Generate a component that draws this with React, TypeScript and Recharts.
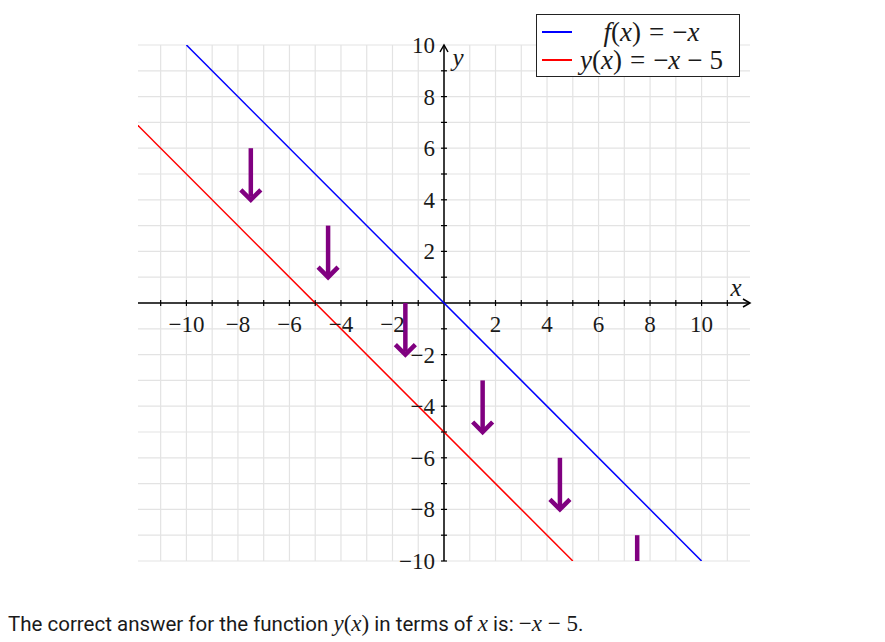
import {
  LineChart,
  Line,
  XAxis,
  YAxis,
  ReferenceLine,
  ReferenceDot,
  Legend,
} from 'recharts'

// plot window
const X_DOMAIN = [-11.88, 11.88]
const Y_DOMAIN = [-10, 10]

// grid / ticks every unit
const gridX = [-11, -10, -9, -8, -7, -6, -5, -4, -3, -2, -1, 0, 1, 2, 3, 4, 5, 6, 7, 8, 9, 10, 11]
const gridY = [-10, -9, -8, -7, -6, -5, -4, -3, -2, -1, 0, 1, 2, 3, 4, 5, 6, 7, 8, 9, 10]
const tickMarksX = [-11, -10, -9, -8, -7, -6, -5, -4, -3, -2, -1, 1, 2, 3, 4, 5, 6, 7, 8, 9, 10, 11]
const tickMarksY = [-10, -9, -8, -7, -6, -5, -4, -3, -2, -1, 1, 2, 3, 4, 5, 6, 7, 8, 9]
const tickLabelsX = [-10, -8, -6, -4, -2, 2, 4, 6, 8, 10]
const tickLabelsY = [-10, -8, -6, -4, -2, 2, 4, 6, 8, 10]

// f(x) = -x
const fX = [-10, 10]
const fY = [10, -10]
// y(x) = -x - 5
const gX = [-12, 5]
const gY = [7, -10]

// purple shift arrows
const arrowX = [-7.5, -4.5, -1.5, 1.5, 4.5, 7.5]
const arrowTop = [6, 3, 0, -3, -6, -9]
const arrowBottom = [4, 1, -2, -5, -8, -11]

const fData = fX.map((x, i) => ({ x, y: fY[i] }))
const gData = gX.map((x, i) => ({ x, y: gY[i] }))

const SERIF = '"Liberation Serif", "Times New Roman", serif'
const PURPLE = '#800080'
const INK = '#1a1a1a'
const GRID = '#e3e3e3'

const fmt = (v: number) => (v < 0 ? '\u2212' + Math.abs(v) : String(v))

function ArrowShape(p: any) {
  const { x1, y1, x2, y2 } = p
  return (
    <g clipPath={p.clipPath}>
      <line x1={x1} y1={y1} x2={x2} y2={y2 - 3} stroke={PURPLE} strokeWidth={4.5} />
      <polyline
        points={`${x2 - 10},${y2 - 10} ${x2},${y2} ${x2 + 10},${y2 - 10}`}
        fill="none"
        stroke={PURPLE}
        strokeWidth={4.5}
      />
    </g>
  )
}

function XTick(p: any) {
  return <line x1={p.cx} y1={p.cy - 3} x2={p.cx} y2={p.cy + 3} stroke="#000" strokeWidth={1.2} />
}

function YTick(p: any) {
  return <line x1={p.cx - 3} y1={p.cy} x2={p.cx + 3} y2={p.cy} stroke="#000" strokeWidth={1.2} />
}

function XLabel(p: any) {
  return (
    <text x={p.cx} y={p.cy + 29} textAnchor="middle" fontFamily={SERIF} fontSize={23} fill={INK}>
      {p.label}
    </text>
  )
}

function YLabel(p: any) {
  return (
    <text x={p.cx - 9} y={p.cy + 8} textAnchor="end" fontFamily={SERIF} fontSize={23} fill={INK}>
      {p.label}
    </text>
  )
}

function XAxisArrow(p: any) {
  return (
    <g>
      <polyline
        points={`${p.cx - 7},${p.cy - 4} ${p.cx},${p.cy} ${p.cx - 7},${p.cy + 4}`}
        fill="none"
        stroke="#000"
        strokeWidth={1.5}
      />
      <text x={p.cx - 14} y={p.cy - 7} textAnchor="middle" fontFamily={SERIF} fontStyle="italic" fontSize={25} fill={INK}>
        x
      </text>
    </g>
  )
}

function YAxisArrow(p: any) {
  return (
    <g>
      <polyline
        points={`${p.cx - 4},${p.cy + 7} ${p.cx},${p.cy} ${p.cx + 4},${p.cy + 7}`}
        fill="none"
        stroke="#000"
        strokeWidth={1.5}
      />
      <text x={p.cx + 14} y={p.cy + 21} textAnchor="middle" fontFamily={SERIF} fontStyle="italic" fontSize={25} fill={INK}>
        y
      </text>
    </g>
  )
}

const gap = (c: string, m = 8) => <span style={{ margin: `0 ${m}px` }}>{c}</span>

const legendText: Record<string, any> = {
  f: (
    <>
      <i>f</i>(<i>x</i>){gap('=')}{'\u2212'}<i>x</i>
    </>
  ),
  y: (
    <>
      <i>y</i>(<i>x</i>){gap('=')}{'\u2212'}<i>x</i>{gap('\u2212', 7)}5
    </>
  ),
}

function LegendBox(props: any) {
  const items = props.payload || []
  return (
    <div
      style={{
        boxSizing: 'border-box',
        width: 204,
        height: 63,
        border: '1.5px solid #222',
        background: '#fff',
        paddingTop: 3,
      }}
    >
      {items.map((it: any) => (
        <div key={it.value} style={{ display: 'flex', alignItems: 'center', height: 28 }}>
          <div style={{ width: 30, marginLeft: 5, borderTop: `2px solid ${it.color}` }} />
          <div
            style={{
              flex: 1,
              textAlign: 'center',
              fontFamily: SERIF,
              fontSize: 27,
              color: INK,
              whiteSpace: 'nowrap',
              lineHeight: '28px',
              paddingRight: 8,
            }}
          >
            {legendText[it.value]}
          </div>
        </div>
      ))}
    </div>
  )
}

export default function App() {
  return (
    <div style={{ position: 'absolute', left: 0, top: 0, width: 885, height: 642, background: '#fff' }}>
      <LineChart width={885} height={600} margin={{ top: 45, right: 135, bottom: 39, left: 138 }}>
        <XAxis
          type="number"
          dataKey="x"
          domain={X_DOMAIN}
          ticks={gridX}
          allowDataOverflow
          axisLine={false}
          tickLine={false}
          tick={false}
          height={0}
        />
        <YAxis
          type="number"
          domain={Y_DOMAIN}
          ticks={gridY}
          allowDataOverflow
          axisLine={false}
          tickLine={false}
          tick={false}
          width={0}
        />
        <Legend
          layout="vertical"
          align="center"
          verticalAlign="middle"
          wrapperStyle={{ top: 14, left: 536, width: 204, height: 63 }}
          content={(p: any) => <LegendBox {...p} />}
        />
        {/* light grid, one line per unit */}
        {gridX.map((v) => (
          <ReferenceLine key={'gx' + v} x={v} stroke={GRID} strokeWidth={1.2} />
        ))}
        {gridY.map((v) => (
          <ReferenceLine key={'gy' + v} y={v} stroke={GRID} strokeWidth={1.2} />
        ))}
        <ReferenceLine y={0} stroke="#000" strokeWidth={1.5} />
        <ReferenceLine x={0} stroke="#000" strokeWidth={1.5} />
        {tickMarksX.map((v) => (
          <ReferenceDot key={'tx' + v} x={v} y={0} shape={XTick} />
        ))}
        {tickMarksY.map((v) => (
          <ReferenceDot key={'ty' + v} x={0} y={v} shape={YTick} />
        ))}
        {tickLabelsX.map((v) => (
          <ReferenceDot key={'lx' + v} x={v} y={0} shape={(p: any) => <XLabel {...p} label={fmt(v)} />} />
        ))}
        {tickLabelsY.map((v) => (
          <ReferenceDot key={'ly' + v} x={0} y={v} shape={(p: any) => <YLabel {...p} label={fmt(v)} />} />
        ))}
        <ReferenceDot x={X_DOMAIN[1]} y={0} shape={XAxisArrow} />
        <ReferenceDot x={0} y={Y_DOMAIN[1]} shape={YAxisArrow} />
        <Line
          data={fData}
          dataKey="y"
          name="f"
          stroke="#0000ff"
          strokeWidth={1.5}
          dot={false}
          isAnimationActive={false}
        />
        <Line
          data={gData}
          dataKey="y"
          name="y"
          stroke="#ff0000"
          strokeWidth={1.5}
          dot={false}
          isAnimationActive={false}
        />
        {arrowX.map((x, i) => (
          <ReferenceLine
            key={'a' + i}
            segment={[
              { x, y: arrowTop[i] },
              { x, y: arrowBottom[i] },
            ]}
            ifOverflow="hidden"
            shape={ArrowShape}
          />
        ))}
      </LineChart>
      <div
        style={{
          position: 'absolute',
          left: 8,
          top: 611,
          fontFamily: 'Roboto, sans-serif',
          fontSize: 20.5,
          lineHeight: '26px',
          color: INK,
          whiteSpace: 'nowrap',
        }}
      >
        The correct answer for the function{' '}
        <span style={{ fontFamily: SERIF, fontSize: 23 }}>
          <i>y</i>(<i>x</i>)
        </span>{' '}
        in terms of <i style={{ fontFamily: SERIF, fontSize: 23 }}>x</i> is:{' '}
        <span style={{ fontFamily: SERIF, fontSize: 23 }}>
          {'\u2212'}
          <i>x</i> {'\u2212'} 5
        </span>
        .
      </div>
    </div>
  )
}
